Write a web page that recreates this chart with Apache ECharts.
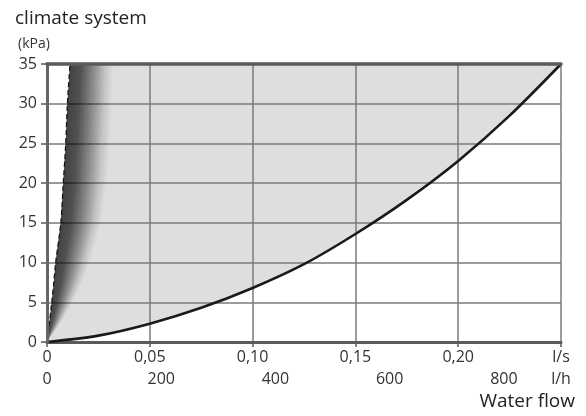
<!DOCTYPE html>
<html>
<head>
<meta charset="utf-8">
<script src="https://cdn.jsdelivr.net/npm/echarts@6/dist/echarts.min.js"></script>
<style>
  html, body { margin: 0; padding: 0; background: #fff; }
  #chart { width: 586px; height: 416px; }
</style>
</head>
<body>
<div id="chart"></div>
<script>
// pressure drop curve of the climate system (flow in l/s, pressure in kPa)
const flowMain = [0, 0.025, 0.05, 0.075, 0.1, 0.125, 0.15, 0.175, 0.2, 0.225, 0.25];
const pressMain = [0, 0.8, 2.3, 4.3, 6.8, 9.8, 13.6, 17.9, 22.8, 28.5, 35];

// steep left boundary (dashed) and outer edge of the dark shading band
const pressLevels = [0, 2.5, 5, 7.5, 10, 15, 20, 25, 30, 35];
const flowInner = [0, 0.0012, 0.0023, 0.0033, 0.0042, 0.0067, 0.0079, 0.0091, 0.0099, 0.0112];
const flowOuter = [0, 0.0070, 0.0126, 0.0172, 0.0209, 0.0266, 0.0292, 0.0306, 0.0316, 0.0321];

// axis ticks
const flowTicksLs = [0, 0.05, 0.10, 0.15, 0.20, 0.25];
const flowTicksLh = [0, 200, 400, 600, 800, 900];
const pressTicks = [0, 5, 10, 15, 20, 25, 30, 35];

const FONT = '"Open Sans", sans-serif';
const TXT = '#333';
const AREA_GREY = 0xde;

const chart = echarts.init(document.getElementById('chart'));

// light grey operating area between the two curves
function renderArea(params, api) {
  const pts = [];
  for (let i = 0; i < pressLevels.length; i++) pts.push(api.coord([flowInner[i], pressLevels[i]]));
  for (let i = flowMain.length - 1; i >= 0; i--) pts.push(api.coord([flowMain[i], pressMain[i]]));
  return { type: 'polygon', shape: { points: pts }, style: { fill: '#dedede' } };
}

// dark shaded band: nested translucent layers so the fade follows the curve
const STEPS = 30;
function greyAt(t) {
  // t = 0 at the dashed edge, 1 at the outer edge
  const stops = [[0, 0x48], [0.25, 0x56], [0.55, 0x8e], [0.82, 0xc6], [1, AREA_GREY]];
  for (let k = 1; k < stops.length; k++) {
    if (t <= stops[k][0]) {
      const f = (t - stops[k - 1][0]) / (stops[k][0] - stops[k - 1][0]);
      return stops[k - 1][1] + f * (stops[k][1] - stops[k - 1][1]);
    }
  }
  return AREA_GREY;
}
function renderBand(params, api) {
  const children = [];
  let outerT = 1; // transmittance already applied by outer layers
  for (let s = STEPS; s >= 1; s--) {
    const t = s / STEPS;
    const target = greyAt(t - 0.5 / STEPS) / AREA_GREY;
    const alpha = Math.max(0, 1 - target / outerT);
    outerT = target;
    const pts = [];
    for (let i = 0; i < pressLevels.length; i++) pts.push(api.coord([flowInner[i], pressLevels[i]]));
    for (let i = pressLevels.length - 1; i >= 0; i--) {
      const q = flowInner[i] + t * (flowOuter[i] - flowInner[i]);
      pts.push(api.coord([q, pressLevels[i]]));
    }
    children.push({ type: 'polygon', shape: { points: pts }, style: { fill: 'rgba(0,0,0,' + alpha.toFixed(4) + ')' } });
  }
  return { type: 'group', children: children };
}

const borderColor = '#5a5a5a';

chart.setOption({
  animation: false,
  backgroundColor: '#fff',
  grid: { left: 47, right: 25, top: 64, bottom: 74 },
  title: [
    { text: 'climate system', left: 10, top: 4, textStyle: { fontFamily: FONT, fontSize: 19, fontWeight: 'normal', color: '#222' } },
    { text: '(kPa)', left: 13, top: 32, textStyle: { fontFamily: FONT, fontSize: 14, fontWeight: 'normal', color: TXT } },
    { text: 'Water flow', right: 6, top: 387, textStyle: { fontFamily: FONT, fontSize: 19, fontWeight: 'normal', color: '#222' } }
  ],
  xAxis: [
    {
      type: 'value', min: 0, max: 0.25, interval: 0.05, position: 'bottom', z: 2,
      axisLine: { show: true, lineStyle: { color: borderColor, width: 3 } },
      axisTick: { show: true, length: 5, lineStyle: { color: borderColor, width: 1.5 } },
      splitLine: { show: true, lineStyle: { color: '#7a7a7a', width: 1.5 } },
      axisLabel: {
        margin: 7, color: TXT, fontFamily: FONT, fontSize: 16,
        formatter: v => {
          const t = flowTicksLs.find(x => Math.abs(x - v) < 1e-9);
          if (t === undefined) return '';
          if (t === 0.25) return 'l/s';
          return t === 0 ? '0' : t.toFixed(2).replace('.', ',');
        }
      }
    },
    {
      type: 'value', min: 0, max: 900, interval: 100, position: 'bottom', offset: 22, z: 2,
      axisLine: { show: false }, axisTick: { show: false }, splitLine: { show: false },
      axisLabel: {
        margin: 7, color: TXT, fontFamily: FONT, fontSize: 16,
        formatter: v => {
          if (!flowTicksLh.includes(v)) return '';
          return v === 900 ? 'l/h' : String(v);
        }
      }
    },
    {
      type: 'value', min: 0, max: 0.25, position: 'top', z: 10,
      axisLine: { show: true, lineStyle: { color: borderColor, width: 3.5 } },
      axisTick: { show: false }, axisLabel: { show: false }, splitLine: { show: false }
    }
  ],
  yAxis: [
    {
      type: 'value', min: 0, max: 35, interval: 5, z: 2,
      axisLine: { show: true, lineStyle: { color: borderColor, width: 3 } },
      axisTick: { show: true, length: 6, lineStyle: { color: borderColor, width: 1.5 } },
      splitLine: { show: true, lineStyle: { color: '#7a7a7a', width: 1.5 } },
      axisLabel: {
        margin: 10, color: TXT, fontFamily: FONT, fontSize: 16,
        formatter: v => pressTicks.includes(v) ? String(v) : ''
      }
    },
    {
      type: 'value', min: 0, max: 35, position: 'right', z: 10,
      axisLine: { show: true, lineStyle: { color: '#666', width: 3 } },
      axisTick: { show: false }, axisLabel: { show: false }, splitLine: { show: false }
    }
  ],
  series: [
    {
      type: 'custom', z: 1, silent: true, xAxisIndex: 0, yAxisIndex: 0,
      renderItem: renderArea, data: [[0, 0]]
    },
    {
      type: 'custom', z: 3, silent: true, xAxisIndex: 0, yAxisIndex: 0,
      renderItem: renderBand, data: [[0, 0]]
    },
    {
      type: 'line', z: 4, xAxisIndex: 0, yAxisIndex: 0, symbol: 'none', smooth: 0.3,
      data: pressLevels.map((p, i) => [flowInner[i], p]),
      lineStyle: { color: '#111', width: 1.2, type: [5, 3] }
    },
    {
      type: 'line', z: 4, xAxisIndex: 0, yAxisIndex: 0, symbol: 'none', smooth: 0.3,
      data: flowMain.map((q, i) => [q, pressMain[i]]),
      lineStyle: { color: '#1a1a1a', width: 2.6 }
    }
  ]
});
</script>
</body>
</html>
